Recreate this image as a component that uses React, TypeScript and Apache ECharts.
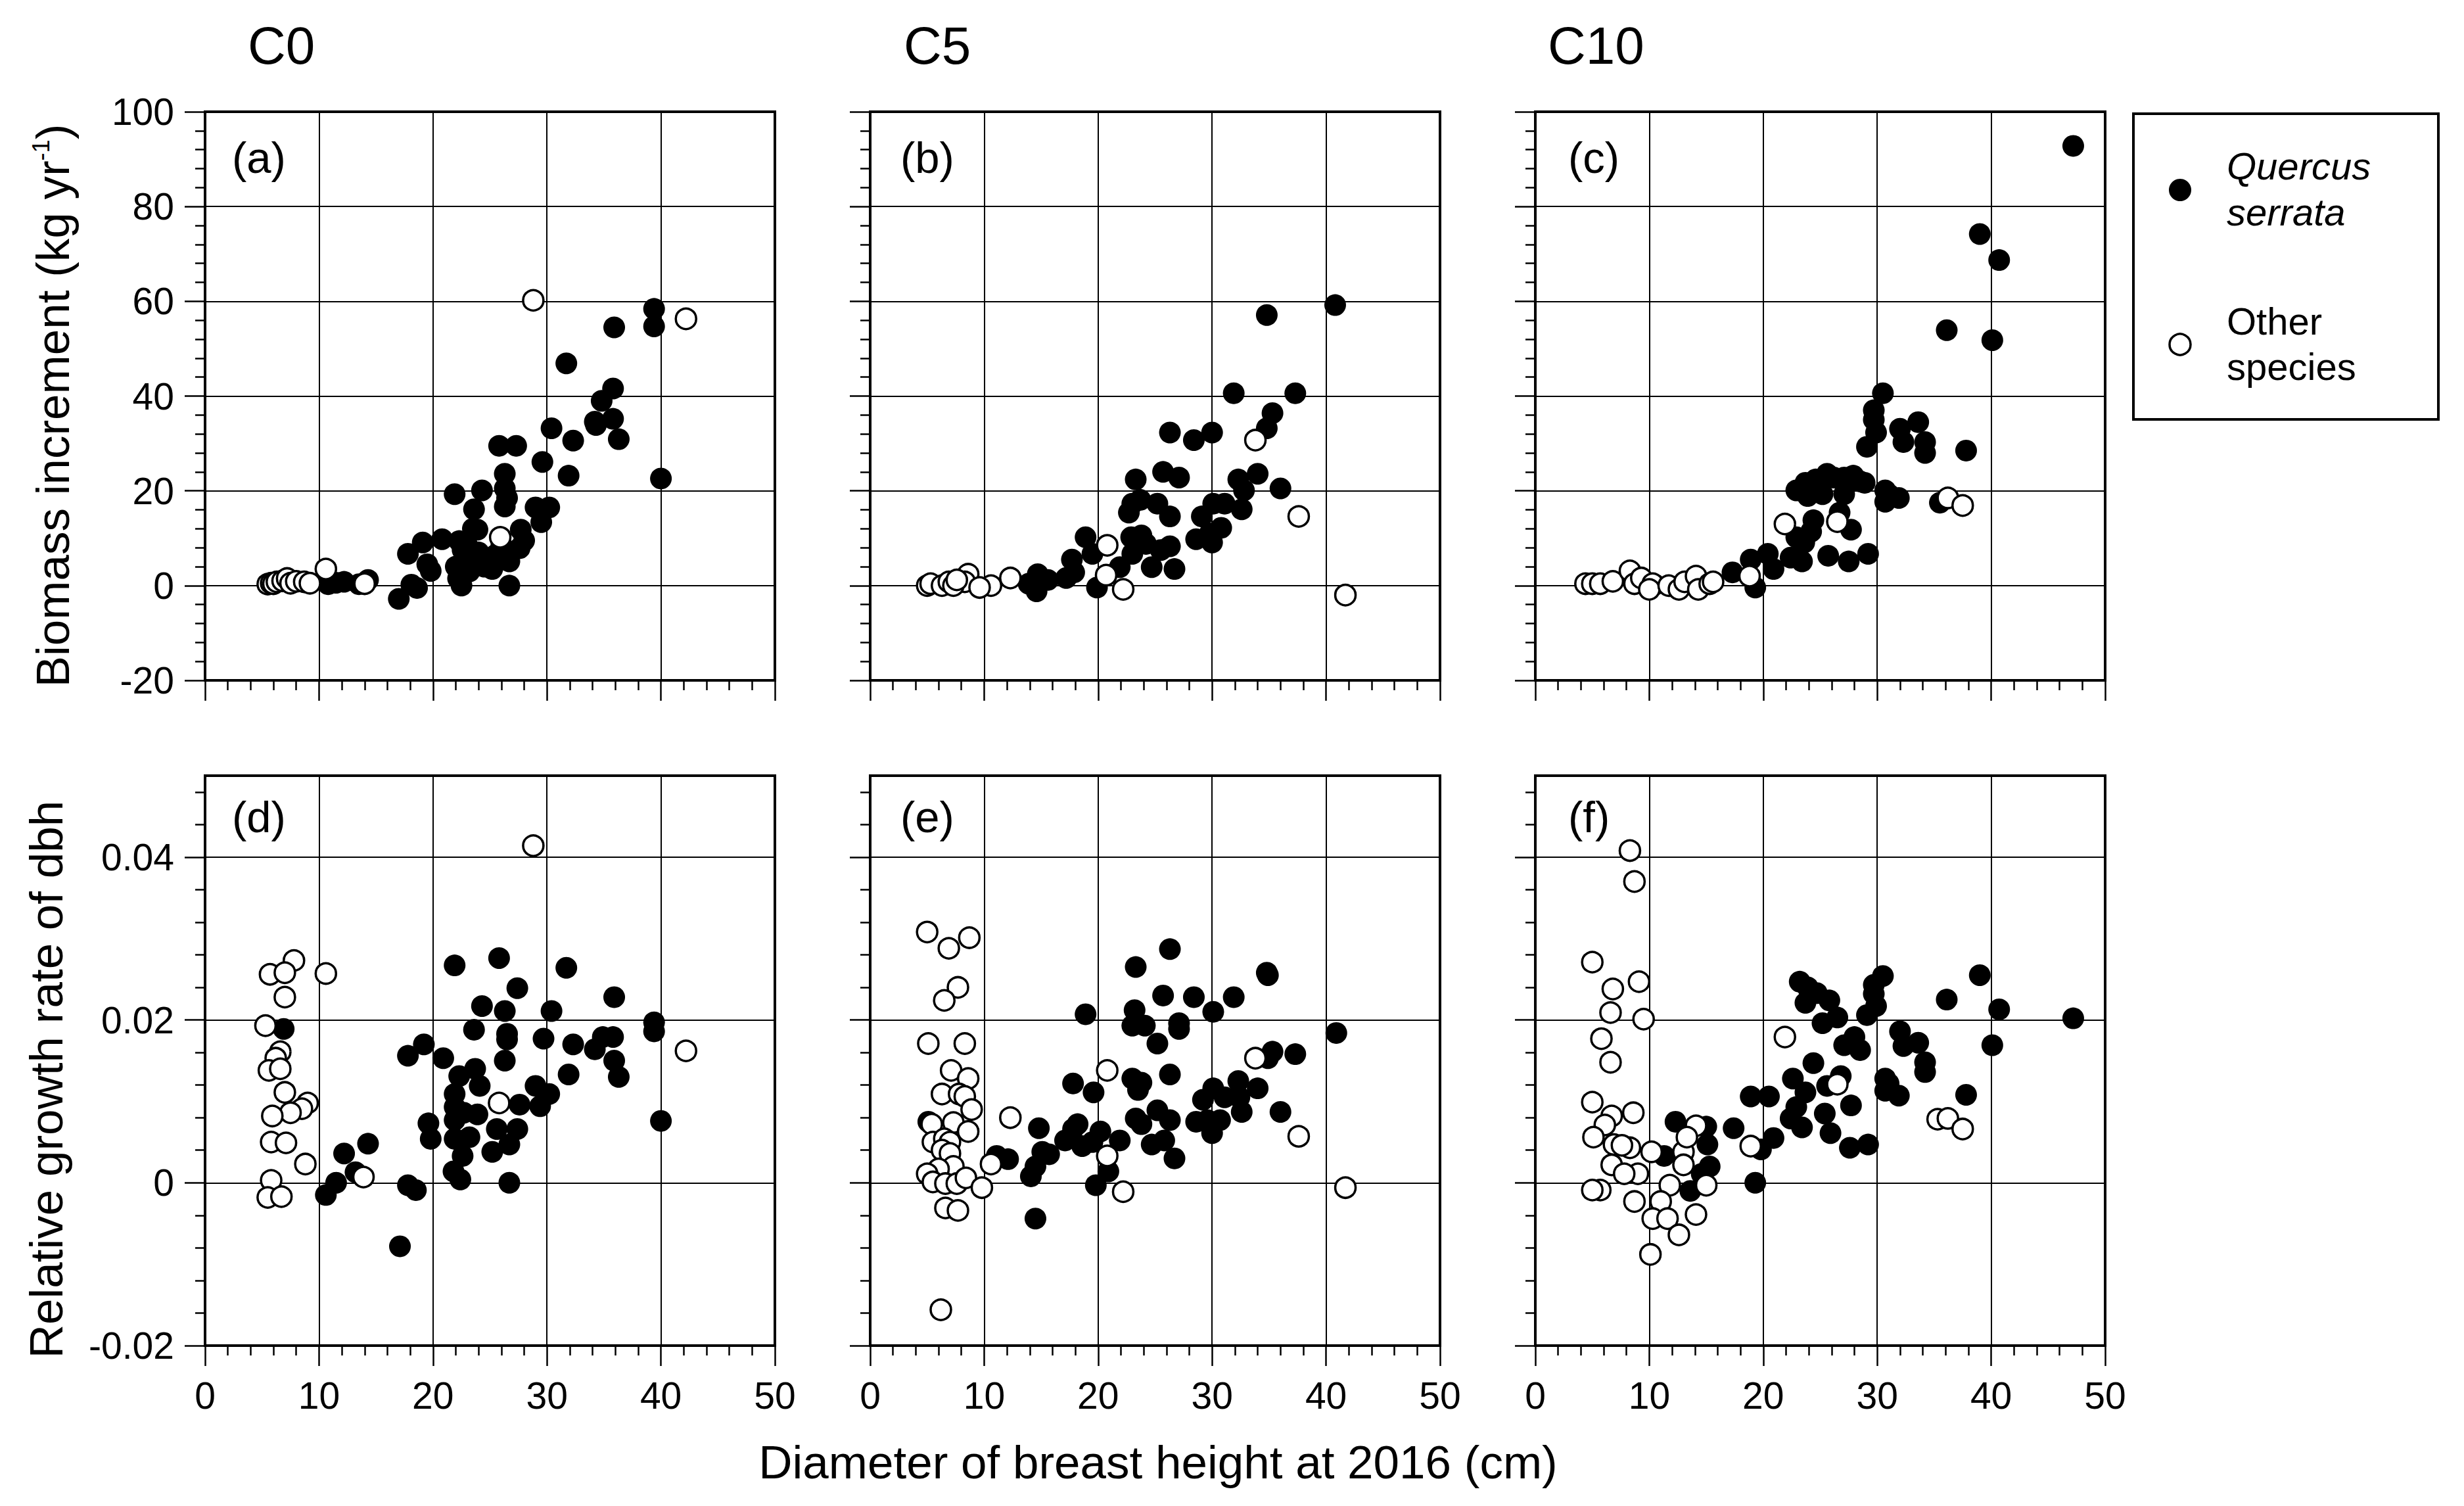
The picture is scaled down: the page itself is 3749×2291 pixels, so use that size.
import React, { useEffect, useRef } from "react";
import * as echarts from "echarts";

const W = 3749;
const H = 2291;
const FONT = '"Liberation Sans", Arial, Helvetica, sans-serif';

// ---------- text ----------
const treatments = ["C0", "C5", "C10"];
const panelLetters = ["(a)", "(b)", "(c)", "(d)", "(e)", "(f)"];
const xTitle = "Diameter of breast height at 2016 (cm)";
const yTitleTopMain = "Biomass increment (kg yr";
const yTitleTopSup = "-1";
const yTitleBottom = "Relative growth rate of dbh";
const legendQuercus = ["Quercus", "serrata"];
const legendOther = ["Other", "species"];

// ---------- axis scales ----------
const dbhAxis = { min: 0, max: 50, interval: 10 };
const biomassAxis = { min: -20, max: 100, interval: 20 };
const rgrAxis = { min: -0.02, max: 0.05 };
const rgrMajorTicks = [-0.02, 0, 0.02, 0.04];
const rgrMinorTicks = [-0.016, -0.012, -0.008, -0.004, 0.004, 0.008, 0.012, 0.016, 0.024, 0.028, 0.032, 0.036, 0.044, 0.048];

// ---------- data: [dbh (cm), value] ----------
// (a) C0 biomass increment
const aQuercus = [
  [17.0, -2.8], [18.1, 0.2], [18.6, -0.5], [17.8, 6.7], [19.1, 9.1], [19.8, 3.1], [20.8, 9.8], [19.5, 4.5],
  [21.9, 19.3], [22.3, 9.4], [22.0, 4.0], [22.2, 1.5], [22.5, 0.0], [22.8, 6.0], [23.0, 8.5], [23.2, 3.0],
  [23.5, 12.0], [23.6, 16.1], [23.9, 11.8], [23.4, 5.5], [22.6, 7.5], [24.0, 7.0], [24.3, 20.1], [24.5, 4.0],
  [25.2, 3.5], [25.5, 6.5], [25.8, 29.5], [26.3, 23.6], [26.3, 20.5], [26.5, 18.5], [26.3, 16.7], [26.7, 5.1],
  [26.7, 0.0], [26.0, 8.5], [27.3, 29.5], [27.6, 7.9], [27.7, 11.8], [28.0, 9.5], [29.0, 16.5], [29.5, 13.4],
  [29.6, 26.1], [30.2, 16.5], [30.4, 33.2], [31.7, 46.9], [31.9, 23.2], [32.3, 30.6], [34.2, 34.6], [34.3, 33.9],
  [34.8, 39.0], [35.8, 41.6], [35.8, 35.2], [35.9, 54.5], [36.3, 30.9], [39.4, 58.4], [39.4, 54.7], [40.0, 22.6],
  [10.8, 0.3], [11.5, 0.6], [12.2, 0.8], [14.3, 1.2], [13.5, 0.3],
];
const aOther = [
  [5.5, 0.3], [5.8, 0.5], [6.0, 0.4], [6.3, 0.8], [6.8, 1.0], [7.2, 1.5], [7.5, 0.5], [8.0, 0.9], [8.7, 0.8],
  [9.2, 0.5], [10.6, 3.5], [14.0, 0.4], [25.9, 10.2], [28.8, 60.2], [42.2, 56.3],
];
// (b) C5 biomass increment
const bQuercus = [
  [40.8, 59.2], [34.8, 57.1], [31.9, 40.6], [37.3, 40.6], [35.3, 36.4], [34.8, 33.2], [26.3, 32.3], [30.0, 32.3],
  [28.4, 30.7], [25.7, 24.0], [27.1, 22.8], [23.3, 22.4], [34.0, 23.6], [32.3, 22.4], [32.8, 20.1], [36.0, 20.5],
  [23.0, 17.3], [23.7, 18.1], [25.2, 17.3], [26.3, 14.6], [22.7, 15.4], [32.6, 16.1], [31.1, 17.3], [30.1, 17.3],
  [29.1, 14.6], [30.8, 12.2], [29.8, 11.0], [28.6, 9.8], [30.0, 9.1], [18.9, 10.2], [22.9, 10.2], [23.8, 10.6],
  [26.3, 8.3], [25.5, 7.5], [24.7, 3.9], [23.0, 6.7], [26.7, 3.5], [21.9, 3.9], [19.5, 6.7], [17.7, 5.5],
  [17.9, 2.8], [19.9, -0.4], [17.2, 1.6], [15.6, 1.2], [14.7, 2.4], [13.9, 0.4], [14.6, -1.2], [24.2, 8.8],
];
const bOther = [
  [33.8, 30.7], [37.6, 14.6], [41.7, -2.0], [20.8, 8.5], [20.7, 2.2], [22.2, -0.8], [12.3, 1.6], [10.6, 0.0],
  [8.6, 2.4], [8.3, 0.8], [5.0, 0.0], [5.3, 0.4], [6.3, 0.0], [6.9, 0.8], [7.3, 0.0], [7.6, 1.2], [9.6, -0.4],
];
// (c) C10 biomass increment
const cQuercus = [
  [47.2, 92.8], [39.0, 74.2], [40.7, 68.7], [36.1, 53.9], [40.1, 51.8], [30.5, 40.6], [29.7, 37.0], [29.7, 35.0],
  [29.9, 32.3], [29.1, 29.3], [32.0, 33.1], [33.6, 34.5], [32.3, 30.3], [34.2, 30.3], [34.2, 28.0], [37.8, 28.5],
  [22.9, 20.1], [23.7, 21.7], [24.6, 22.4], [25.6, 23.6], [26.2, 22.8], [27.1, 22.8], [27.9, 23.2], [28.5, 22.0],
  [28.9, 21.7], [25.2, 19.3], [27.1, 19.3], [23.9, 18.9], [30.7, 20.1], [31.0, 19.3], [31.9, 18.5], [30.7, 17.7],
  [35.5, 17.5], [24.4, 13.8], [26.7, 15.4], [27.7, 11.8], [24.2, 11.4], [22.9, 10.2], [23.6, 9.1], [22.4, 5.9],
  [23.4, 5.1], [25.7, 6.3], [27.5, 5.1], [29.2, 6.7], [20.4, 6.7], [18.9, 5.5], [20.9, 3.5], [17.3, 2.8],
  [19.3, -0.4], [10.5, 0.2], [13.8, 0.5],
];
const cOther = [
  [36.2, 18.5], [37.5, 16.9], [21.9, 13.0], [26.5, 13.5], [18.8, 2.0], [4.4, 0.4], [5.0, 0.4], [5.7, 0.4],
  [6.8, 0.9], [8.3, 3.1], [8.7, 0.4], [9.3, 1.6], [10.3, 0.4], [10.0, -0.8], [11.7, 0.0], [12.6, -0.8],
  [13.1, 0.8], [14.1, 2.0], [14.3, -0.8], [15.3, 0.4], [15.6, 0.8],
];
// (d) C0 relative growth rate
const dQuercus = [
  [21.9, 0.0267], [25.8, 0.0276], [31.7, 0.0264], [27.4, 0.0239], [35.9, 0.0228], [24.3, 0.0217], [26.3, 0.0211],
  [30.4, 0.0211], [39.4, 0.0197], [39.4, 0.0186], [23.6, 0.0188], [26.5, 0.0183], [26.5, 0.0176], [29.7, 0.0177],
  [32.3, 0.0170], [34.9, 0.0179], [35.8, 0.0179], [34.2, 0.0164], [35.9, 0.0150], [36.3, 0.0130], [31.9, 0.0133],
  [26.3, 0.0150], [17.8, 0.0156], [19.2, 0.0170], [20.9, 0.0153], [23.7, 0.0140], [22.3, 0.0131], [24.1, 0.0119],
  [29.0, 0.0119], [30.2, 0.0109], [29.4, 0.0094], [27.6, 0.0096], [21.9, 0.0109], [21.9, 0.0093], [22.7, 0.0086],
  [23.9, 0.0084], [21.9, 0.0077], [19.6, 0.0073], [19.8, 0.0054], [21.9, 0.0054], [23.2, 0.0056], [25.6, 0.0066],
  [27.4, 0.0066], [26.7, 0.0047], [25.2, 0.0038], [22.6, 0.0033], [21.8, 0.0014], [22.4, 0.0004], [26.7, 0.0],
  [40.0, 0.0076], [17.8, -0.0003], [18.5, -0.0009], [17.1, -0.0078], [14.3, 0.0048], [12.2, 0.0036], [13.2, 0.0013],
  [11.5, 0.0], [10.6, -0.0015], [6.9, 0.0189],
];
const dOther = [
  [28.8, 0.0414], [42.2, 0.0162], [25.8, 0.0098], [7.8, 0.0273], [5.7, 0.0256], [7.0, 0.0258], [10.6, 0.0257],
  [7.0, 0.0228], [5.3, 0.0193], [6.6, 0.0161], [6.2, 0.0153], [5.6, 0.0138], [6.6, 0.0140], [7.0, 0.0111],
  [9.0, 0.0098], [8.5, 0.0091], [7.5, 0.0086], [5.9, 0.0082], [5.8, 0.0050], [7.1, 0.0049], [8.8, 0.0023],
  [13.9, 0.0007], [5.8, 0.0003], [5.5, -0.0018], [6.7, -0.0017],
];
// (e) C5 relative growth rate
const eQuercus = [
  [26.3, 0.0287], [23.3, 0.0265], [34.8, 0.0258], [34.9, 0.0255], [25.7, 0.0230], [28.4, 0.0228], [31.9, 0.0228],
  [18.9, 0.0207], [23.2, 0.0212], [23.0, 0.0193], [24.1, 0.0193], [27.1, 0.0196], [27.1, 0.0189], [30.1, 0.0210],
  [40.9, 0.0184], [25.2, 0.0171], [35.3, 0.0161], [34.9, 0.0153], [37.3, 0.0158], [26.3, 0.0133], [23.0, 0.0128],
  [23.8, 0.0123], [23.5, 0.0114], [17.8, 0.0122], [19.6, 0.0111], [32.3, 0.0125], [34.0, 0.0116], [30.1, 0.0116],
  [29.2, 0.0102], [31.1, 0.0105], [32.4, 0.0105], [32.6, 0.0087], [36.0, 0.0087], [28.6, 0.0075], [29.6, 0.0077],
  [30.7, 0.0077], [30.0, 0.0061], [23.3, 0.0079], [23.8, 0.0072], [25.2, 0.0089], [26.3, 0.0077], [24.7, 0.0047],
  [25.8, 0.0052], [26.7, 0.0030], [21.9, 0.0052], [20.2, 0.0063], [18.2, 0.0072], [17.8, 0.0066], [17.1, 0.0052],
  [18.6, 0.0045], [19.5, 0.0050], [20.9, 0.0014], [19.8, -0.0003], [14.8, 0.0067], [15.1, 0.0038], [15.7, 0.0035],
  [14.1, 0.0008], [14.5, 0.0020], [14.5, -0.0044], [12.1, 0.0029], [11.1, 0.0033], [5.1, 0.0075],
];
const eOther = [
  [5.0, 0.0308], [6.9, 0.0288], [8.7, 0.0301], [7.7, 0.0240], [6.5, 0.0224], [5.1, 0.0171], [8.3, 0.0171],
  [7.1, 0.0138], [8.6, 0.0128], [6.3, 0.0109], [7.8, 0.0109], [8.3, 0.0106], [8.9, 0.0090], [5.4, 0.0072],
  [7.3, 0.0074], [8.6, 0.0063], [5.5, 0.0050], [6.5, 0.0054], [7.0, 0.0050], [6.3, 0.0040], [7.0, 0.0036],
  [7.3, 0.0020], [6.0, 0.0017], [5.0, 0.0011], [5.5, 0.0001], [6.6, -0.0001], [7.6, -0.0001], [8.4, 0.0006],
  [9.8, -0.0006], [6.6, -0.0031], [7.7, -0.0034], [6.2, -0.0156], [12.3, 0.0080], [10.6, 0.0023], [20.8, 0.0138],
  [20.8, 0.0033], [22.2, -0.0011], [33.8, 0.0153], [37.6, 0.0057], [41.7, -0.0006],
];
// (f) C10 relative growth rate
const fQuercus = [
  [47.2, 0.0202], [39.0, 0.0255], [40.7, 0.0213], [36.1, 0.0225], [40.1, 0.0169], [30.5, 0.0254], [29.7, 0.0243],
  [29.7, 0.0232], [29.9, 0.0217], [29.1, 0.0206], [23.2, 0.0247], [23.9, 0.0240], [24.7, 0.0233], [25.8, 0.0224],
  [23.7, 0.0221], [26.5, 0.0203], [25.2, 0.0196], [32.0, 0.0186], [33.6, 0.0172], [32.3, 0.0168], [34.2, 0.0148],
  [34.2, 0.0136], [37.8, 0.0108], [28.0, 0.0179], [27.1, 0.0169], [28.5, 0.0163], [24.4, 0.0147], [22.6, 0.0128],
  [26.8, 0.0131], [25.6, 0.0119], [23.7, 0.0111], [30.7, 0.0128], [31.0, 0.0122], [31.9, 0.0107], [30.7, 0.0113],
  [27.7, 0.0095], [22.9, 0.0093], [22.4, 0.0079], [23.4, 0.0068], [25.4, 0.0085], [25.9, 0.0061], [27.6, 0.0043],
  [29.2, 0.0047], [18.9, 0.0106], [20.5, 0.0106], [20.9, 0.0055], [19.8, 0.0041], [17.4, 0.0067], [19.3, 0.0],
  [12.3, 0.0075], [15.0, 0.0069], [15.1, 0.0047], [15.3, 0.0020], [14.6, 0.0011], [13.6, -0.0010], [11.3, 0.0033],
];
const fOther = [
  [8.3, 0.0408], [8.7, 0.0370], [5.0, 0.0271], [9.1, 0.0247], [6.8, 0.0238], [6.6, 0.0209], [9.5, 0.0201],
  [5.8, 0.0177], [6.6, 0.0148], [21.9, 0.0179], [26.5, 0.0121], [35.3, 0.0078], [36.2, 0.0079], [37.5, 0.0066],
  [5.0, 0.0099], [6.7, 0.0082], [6.1, 0.0071], [8.6, 0.0086], [5.1, 0.0056], [6.9, 0.0047], [8.3, 0.0043],
  [7.6, 0.0046], [10.2, 0.0038], [6.7, 0.0022], [9.0, 0.0011], [7.8, 0.0011], [5.7, -0.0009], [5.0, -0.0009],
  [11.8, -0.0003], [13.0, 0.0038], [13.0, 0.0022], [14.1, 0.0070], [13.3, 0.0056], [15.0, -0.0003], [8.7, -0.0023],
  [11.0, -0.0023], [10.3, -0.0044], [11.6, -0.0044], [14.1, -0.0039], [12.6, -0.0064], [10.1, -0.0088], [18.9, 0.0045],
];

const quercusSets = [aQuercus, bQuercus, cQuercus, dQuercus, eQuercus, fQuercus];
const otherSets = [aOther, bOther, cOther, dOther, eOther, fOther];

// ---------- layout ----------
const colLeft = [312, 1324, 2336];
const rowTop = [170, 1180];
const plotW = 867;
const rowH = [865, 867];

function buildOption() {
  const grids: any[] = [];
  const xAxes: any[] = [];
  const yAxes: any[] = [];
  const series: any[] = [];
  const tickLine = { color: "#000", width: 2.5 };
  const labelStyle = { fontSize: 57, color: "#000", fontFamily: FONT, margin: 47 };
  const noLine = { show: false, onZero: false };

  for (let i = 0; i < 6; i++) {
    const row = i < 3 ? 0 : 1;
    const col = i % 3;
    grids.push({
      left: colLeft[col], top: rowTop[row], width: plotW, height: rowH[row],
      show: true, borderColor: "#000", borderWidth: 4, backgroundColor: "transparent",
      containLabel: false, outerBoundsMode: "none",
    });
    xAxes.push({
      type: "value", gridIndex: i, min: dbhAxis.min, max: dbhAxis.max, interval: dbhAxis.interval,
      position: "bottom",
      axisLine: noLine,
      axisTick: { show: true, inside: false, length: 31, lineStyle: tickLine },
      minorTick: { show: true, splitNumber: 5, length: 15, lineStyle: tickLine },
      axisLabel: { show: row === 1, ...labelStyle },
      splitLine: { show: true, lineStyle: { color: "#000", width: 2 } },
      minorSplitLine: { show: false },
    });
    if (row === 0) {
      yAxes.push({
        type: "value", gridIndex: i, min: biomassAxis.min, max: biomassAxis.max, interval: biomassAxis.interval,
        position: "left",
        axisLine: noLine,
        axisTick: { show: true, inside: false, length: 31, lineStyle: tickLine },
        minorTick: { show: true, splitNumber: 5, length: 15, lineStyle: tickLine },
        axisLabel: { show: col === 0, ...labelStyle },
        splitLine: { show: true, lineStyle: { color: "#000", width: 2 } },
      });
    } else {
      yAxes.push({
        type: "value", gridIndex: i, min: rgrAxis.min, max: rgrAxis.max, interval: 0.02,
        position: "left",
        axisLine: noLine,
        axisTick: { show: true, inside: false, length: 31, lineStyle: tickLine, customValues: rgrMajorTicks },
        axisLabel: { show: col === 0, customValues: rgrMajorTicks, ...labelStyle },
        splitLine: { show: true, lineStyle: { color: "#000", width: 2 } },
      });
    }
  }
  // minor ticks for the lower row (0.004 steps)
  for (let i = 3; i < 6; i++) {
    yAxes.push({
      type: "value", gridIndex: i, min: rgrAxis.min, max: rgrAxis.max, interval: 0.004,
      position: "left", offset: 0,
      axisLine: noLine,
      axisTick: { show: true, inside: false, length: 15, lineStyle: tickLine, customValues: rgrMinorTicks },
      axisLabel: { show: false },
      splitLine: { show: false },
    });
  }

  for (let i = 0; i < 6; i++) {
    series.push({
      type: "scatter", name: "Quercus serrata", xAxisIndex: i, yAxisIndex: i,
      data: quercusSets[i], symbol: "circle", symbolSize: 33,
      itemStyle: { color: "#000", opacity: 1 }, z: 3,
    });
    series.push({
      type: "scatter", name: "Other species", xAxisIndex: i, yAxisIndex: i,
      data: otherSets[i], symbol: "circle", symbolSize: 31,
      itemStyle: { color: "#fff", borderColor: "#000", borderWidth: 3.5, opacity: 1 }, z: 4,
    });
  }

  const graphic: any[] = [];
  const colTitleX = [377, 1375, 2355];
  treatments.forEach((t, k) => {
    graphic.push({
      type: "text", x: colTitleX[k], y: 69,
      style: { text: t, fontSize: 80, fontFamily: FONT, fill: "#000", align: "left", verticalAlign: "middle" },
    });
  });
  const letterX = [353, 1370, 2386];
  const letterY = [239, 1242];
  panelLetters.forEach((p, i) => {
    graphic.push({
      type: "text", x: letterX[i % 3], y: letterY[i < 3 ? 0 : 1],
      style: { text: p, fontSize: 67, fontFamily: FONT, fill: "#000", align: "left", verticalAlign: "middle" },
    });
  });
  // axis titles
  graphic.push({
    type: "text", x: 1762, y: 2224,
    style: { text: xTitle, fontSize: 71, fontFamily: FONT, fill: "#000", align: "center", verticalAlign: "middle" },
  });
  graphic.push({
    type: "text", x: 80, y: 617, rotation: Math.PI / 2,
    style: {
      text: "{m|" + yTitleTopMain + "}{s|" + yTitleTopSup + "}{m|)}",
      align: "center", verticalAlign: "middle",
      rich: {
        m: { fontSize: 71, fontFamily: FONT, fill: "#000", lineHeight: 71 },
        s: { fontSize: 36, fontFamily: FONT, fill: "#000", lineHeight: 4, verticalAlign: "top" },
      },
    },
  });
  graphic.push({
    type: "text", x: 70, y: 1642, rotation: Math.PI / 2,
    style: { text: yTitleBottom, fontSize: 71, fontFamily: FONT, fill: "#000", align: "center", verticalAlign: "middle" },
  });
  // legend box
  graphic.push({
    type: "rect", shape: { x: 3246, y: 173, width: 464, height: 465 },
    style: { fill: "#fff", stroke: "#000", lineWidth: 4 }, z: 10,
  });
  graphic.push({ type: "circle", shape: { cx: 3317, cy: 289, r: 17 }, style: { fill: "#000" }, z: 11 });
  graphic.push({ type: "circle", shape: { cx: 3317, cy: 524, r: 16 }, style: { fill: "#fff", stroke: "#000", lineWidth: 3.5 }, z: 11 });
  const legendTexts: [string, number, boolean][] = [
    [legendQuercus[0], 252, true], [legendQuercus[1], 322, true],
    [legendOther[0], 488, false], [legendOther[1], 557, false],
  ];
  legendTexts.forEach(([t, y, it]) => {
    graphic.push({
      type: "text", x: 3388, y, z: 11,
      style: { text: t, fontSize: 58, fontFamily: FONT, fontStyle: it ? "italic" : "normal", fill: "#000", align: "left", verticalAlign: "middle" },
    });
  });

  return {
    animation: false,
    backgroundColor: "#fff",
    textStyle: { fontFamily: FONT },
    grid: grids,
    xAxis: xAxes,
    yAxis: yAxes,
    series,
    graphic,
  };
}

export default function App() {
  const ref = useRef<HTMLDivElement>(null);
  useEffect(() => {
    if (!ref.current) return;
    const chart = echarts.init(ref.current, null, { renderer: "svg", width: W, height: H });
    chart.setOption(buildOption() as any);
    return () => chart.dispose();
  }, []);
  return (
    <div
      ref={ref}
      style={{ position: "absolute", left: 0, top: 0, width: W, height: H, background: "#fff" }}
    />
  );
}
